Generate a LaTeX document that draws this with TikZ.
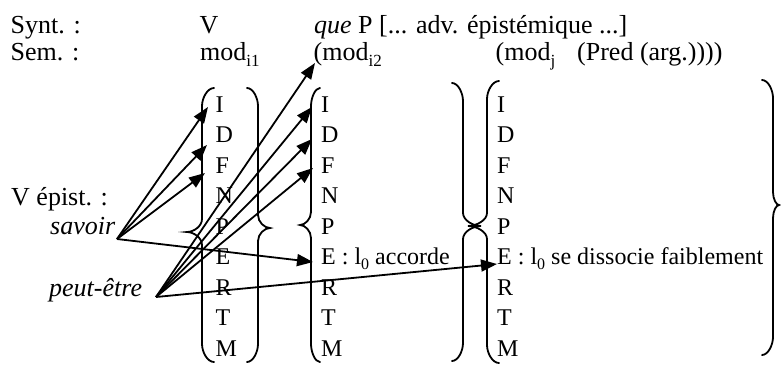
\documentclass[tikz,border=0pt]{standalone}
\usepackage{fontspec}
\setmainfont{Liberation Serif}
\usetikzlibrary{arrows.meta}
\newcommand{\hsub}[1]{\raisebox{-6pt}{\fontsize{17}{17}\selectfont #1}}
\newcommand{\csub}[1]{\raisebox{-4.5pt}{\fontsize{16}{16}\selectfont #1}}
% brace: #1 x of ends, #2 x of vertical, #3 x of tip, #4 y top, #5 y tip, #6 y bottom
\newcommand{\mybrace}[6]{%
  \draw[bracestyle] (#1,#4) .. controls ({#2+0.448*(#1-#2)},#4) and (#2,#4+10) .. (#2,#4+18)
    -- (#2,#5-13)
    .. controls (#2,#5-5.8) and ({#3+0.448*(#2-#3)},#5) .. (#3,#5)
    .. controls ({#3+0.448*(#2-#3)},#5) and (#2,#5+5.8) .. (#2,#5+13)
    -- (#2,#6-18) .. controls (#2,#6-10) and ({#2+0.448*(#1-#2)},#6) .. (#1,#6);}
\begin{document}
\begin{tikzpicture}[x=1pt,y=-1pt,
  hdr/.style={anchor=base west,inner sep=0pt,font=\fontsize{26}{30}\selectfont},
  col/.style={anchor=base west,inner sep=0pt,font=\fontsize{24}{28}\selectfont},
  arr/.style={-{Triangle[length=16pt,width=12pt]},line width=1.8pt},
  bracestyle/.style={line width=1.8pt,line cap=round}]
\useasboundingbox (0,0) rectangle (781,365);

% header rows
\node[hdr] (synt) at (10.5,33) {Synt. :};
\node[hdr] (V) at (199.5,33) {V};
\node[hdr] (que) at (314,33) {\textit{que} P [... adv. épistémique ...]};
\node[hdr] (sem) at (10.5,60) {Sem. :};
\node[hdr] (modi1) at (200,60) {mod\hsub{i1}};
\node[hdr] (modi2) at (313.5,60) {(mod\hsub{i2}};
\node[hdr] (modj) at (495.5,60) {(mod\hsub{j}};
\node[hdr] (pred) at (577,60) {(Pred (arg.))))};

% left labels
\node[hdr] (vep) at (11,205) {V épist. :};
\node[hdr] (savoir) at (50,234) {\textit{savoir}};
\node[hdr] (peut) at (49,296) {\textit{peut-être}};

% columns
\foreach \L/\i in {I/1,D/2,F/3,N/4,P/5,R/7,T/8,M/9}{
  \node[col] (a\L) at (215.5,{112+30.5*(\i-1)}) {\L};
  \node[col] (b\L) at (321,{112+30.5*(\i-1)}) {\L};
  \node[col] (c\L) at (497,{112+30.5*(\i-1)}) {\L};
}
\node[col] (aE) at (215.5,264.5) {E};
\node[col] (bE) at (321,264.5) {E : l\csub{0} accorde};
\node[col] (cE) at (497,264.5) {E : l\csub{0} se dissocie faiblement};

% braces
\mybrace{214}{202}{187}{88}{232}{362}
\mybrace{247}{258}{270}{88}{228}{362}
\mybrace{320}{311}{300}{88}{225}{362}
\mybrace{452}{463}{481}{83}{226}{361}
\mybrace{499}{487}{468}{81}{226}{363}
\mybrace{762}{773}{779}{80}{205}{355}

% arrow sources and targets
\coordinate (sv) at (117,239);
\coordinate (pe) at (156,297);
\coordinate (tI1) at (208,107);
\coordinate (tD1) at (207,145);
\coordinate (tF1) at (205,173);
\coordinate (tE2) at (313,262);
\coordinate (tmod) at (315,63);
\coordinate (tI2) at (312,107);
\coordinate (tD2) at (312,139);
\coordinate (tF2) at (313,168);
\coordinate (tE3) at (497,264);

\draw[arr] (sv) -- (tI1);
\draw[arr] (sv) -- (tD1);
\draw[arr] (sv) -- (tF1);
\draw[arr] (sv) -- (tE2);
\draw[arr] (pe) -- (tmod);
\draw[arr] (pe) -- (tI2);
\draw[arr] (pe) -- (tD2);
\draw[arr] (pe) -- (tF2);
\draw[arr] (pe) -- (tE3);
\end{tikzpicture}
\end{document}
